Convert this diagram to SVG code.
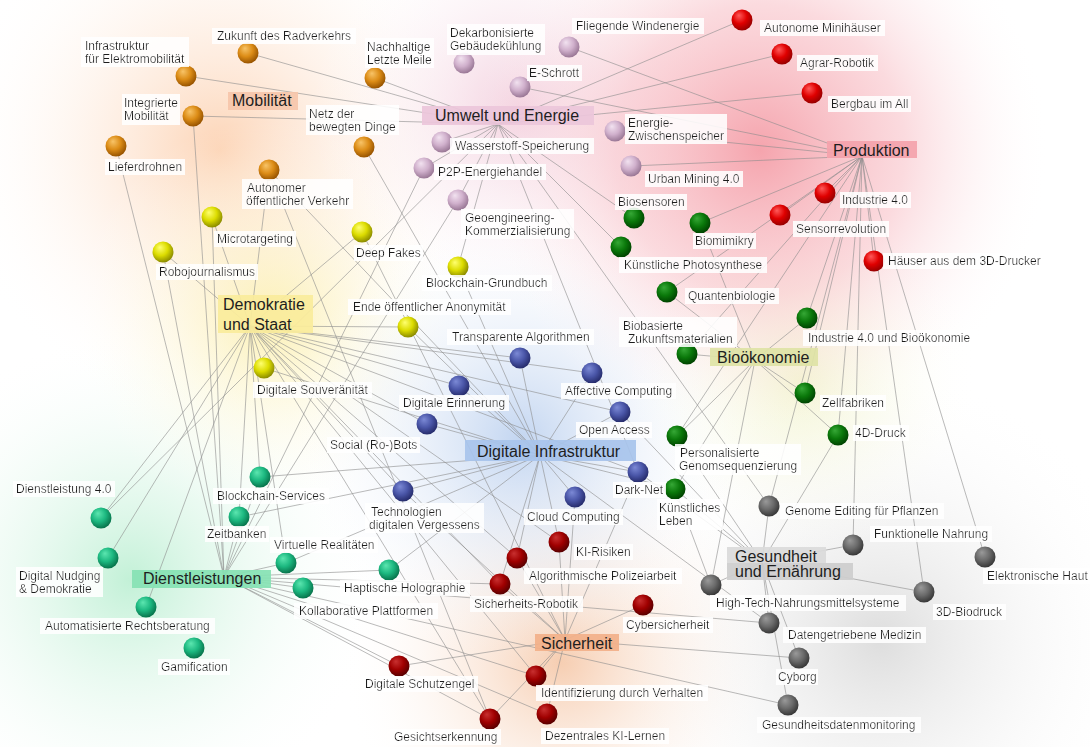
<svg xmlns="http://www.w3.org/2000/svg" width="1090" height="747" viewBox="0 0 1090 747">
<defs>
<style>
text{font-family:"Liberation Sans",Arial,sans-serif;fill:#1e1e1e}
.l{font-size:12px}
.lb{filter:url(#lbg)}
.h{font-size:16px}
.e line{stroke:#8c8c8c;stroke-width:0.75;opacity:0.8}
.or{fill:url(#gOr)}.li{fill:url(#gLi)}.re{fill:url(#gRe)}.gr{fill:url(#gGr)}.ye{fill:url(#gYe)}
.bl{fill:url(#gBl)}.te{fill:url(#gTe)}.dr{fill:url(#gDr)}.gy{fill:url(#gGy)}
</style>
<filter id="lbg" x="-0.03" y="-0.04" width="1.06" height="1.08"><feFlood flood-color="#ffffff" flood-opacity="0.88"/><feComposite in="SourceGraphic" operator="over"/></filter>
<radialGradient id="gOr" cx="0.42" cy="0.38" r="0.62" fx="0.35" fy="0.28"><stop offset="0" stop-color="#f8c468"/><stop offset="0.55" stop-color="#dc8c16"/><stop offset="1" stop-color="#985400"/></radialGradient>
<radialGradient id="gLi" cx="0.42" cy="0.38" r="0.62" fx="0.35" fy="0.28"><stop offset="0" stop-color="#f2e2f0"/><stop offset="0.55" stop-color="#d0b0cc"/><stop offset="1" stop-color="#9a7896"/></radialGradient>
<radialGradient id="gRe" cx="0.42" cy="0.38" r="0.62" fx="0.35" fy="0.28"><stop offset="0" stop-color="#ff5a5a"/><stop offset="0.55" stop-color="#e00000"/><stop offset="1" stop-color="#980000"/></radialGradient>
<radialGradient id="gGr" cx="0.42" cy="0.38" r="0.62" fx="0.35" fy="0.28"><stop offset="0" stop-color="#36a836"/><stop offset="0.55" stop-color="#0a780a"/><stop offset="1" stop-color="#004400"/></radialGradient>
<radialGradient id="gYe" cx="0.42" cy="0.38" r="0.62" fx="0.35" fy="0.28"><stop offset="0" stop-color="#ffff70"/><stop offset="0.55" stop-color="#dcdc00"/><stop offset="1" stop-color="#8c8c00"/></radialGradient>
<radialGradient id="gBl" cx="0.42" cy="0.38" r="0.62" fx="0.35" fy="0.28"><stop offset="0" stop-color="#7c8ad6"/><stop offset="0.55" stop-color="#4a56a8"/><stop offset="1" stop-color="#262c6c"/></radialGradient>
<radialGradient id="gTe" cx="0.42" cy="0.38" r="0.62" fx="0.35" fy="0.28"><stop offset="0" stop-color="#5ce6b0"/><stop offset="0.55" stop-color="#1cb880"/><stop offset="1" stop-color="#08744c"/></radialGradient>
<radialGradient id="gDr" cx="0.42" cy="0.38" r="0.62" fx="0.35" fy="0.28"><stop offset="0" stop-color="#c83030"/><stop offset="0.55" stop-color="#a00000"/><stop offset="1" stop-color="#5a0000"/></radialGradient>
<radialGradient id="gGy" cx="0.42" cy="0.38" r="0.62" fx="0.35" fy="0.28"><stop offset="0" stop-color="#9a9a9a"/><stop offset="0.55" stop-color="#6a6a6a"/><stop offset="1" stop-color="#383838"/></radialGradient>
<radialGradient id="bgRed"><stop offset="0" stop-color="#f49aa4" stop-opacity="0.9"/><stop offset="0.5" stop-color="#f7b6be" stop-opacity="0.5"/><stop offset="1" stop-color="#ffffff" stop-opacity="0"/></radialGradient>
<radialGradient id="bgPink"><stop offset="0" stop-color="#f0c4d6" stop-opacity="0.8"/><stop offset="1" stop-color="#ffffff" stop-opacity="0"/></radialGradient>
<radialGradient id="bgOr"><stop offset="0" stop-color="#fccca8" stop-opacity="0.85"/><stop offset="1" stop-color="#ffffff" stop-opacity="0"/></radialGradient>
<radialGradient id="bgYe"><stop offset="0" stop-color="#fbeea4" stop-opacity="0.8"/><stop offset="1" stop-color="#ffffff" stop-opacity="0"/></radialGradient>
<radialGradient id="bgBl"><stop offset="0" stop-color="#b8ceee" stop-opacity="0.85"/><stop offset="1" stop-color="#ffffff" stop-opacity="0"/></radialGradient>
<radialGradient id="bgGr"><stop offset="0" stop-color="#b8eed0" stop-opacity="0.85"/><stop offset="1" stop-color="#ffffff" stop-opacity="0"/></radialGradient>
<radialGradient id="bgSi"><stop offset="0" stop-color="#f4c09c" stop-opacity="0.8"/><stop offset="1" stop-color="#ffffff" stop-opacity="0"/></radialGradient>
<radialGradient id="bgBio"><stop offset="0" stop-color="#eef0bc" stop-opacity="0.7"/><stop offset="1" stop-color="#ffffff" stop-opacity="0"/></radialGradient>
<radialGradient id="bgGy"><stop offset="0" stop-color="#cfcfcf" stop-opacity="0.7"/><stop offset="1" stop-color="#ffffff" stop-opacity="0"/></radialGradient>
</defs>

<rect x="0" y="0" width="1090" height="747" fill="#ffffff"/>
<g id="background">
<circle cx="880" cy="640" r="270" fill="url(#bgGy)"/>
<circle cx="220" cy="150" r="270" fill="url(#bgOr)"/>
<circle cx="130" cy="580" r="250" fill="url(#bgGr)"/>
<circle cx="270" cy="320" r="200" fill="url(#bgYe)"/>
<circle cx="560" cy="660" r="220" fill="url(#bgSi)"/>
<circle cx="520" cy="440" r="230" fill="url(#bgBl)"/>
<circle cx="800" cy="380" r="180" fill="url(#bgBio)"/>
<circle cx="520" cy="110" r="210" fill="url(#bgPink)"/>
<circle cx="760" cy="150" r="290" fill="url(#bgRed)"/>
</g>

<g id="connectors" class="e">
<!-- Umwelt und Energie -->
<line x1="498" y1="124" x2="248" y2="53"/><line x1="498" y1="124" x2="186" y2="76"/><line x1="498" y1="124" x2="193" y2="116"/>
<line x1="498" y1="124" x2="375" y2="78"/><line x1="498" y1="124" x2="442" y2="142"/><line x1="498" y1="124" x2="424" y2="168"/>
<line x1="498" y1="124" x2="458" y2="200"/><line x1="498" y1="124" x2="634" y2="218"/><line x1="498" y1="124" x2="621" y2="247"/>
<line x1="498" y1="124" x2="742" y2="20"/><line x1="498" y1="124" x2="782" y2="54"/><line x1="498" y1="124" x2="812" y2="93"/>
<line x1="498" y1="124" x2="101" y2="518"/><line x1="498" y1="124" x2="769" y2="506"/><line x1="498" y1="124" x2="458" y2="267"/>
<line x1="498" y1="124" x2="638" y2="472"/>
<!-- Produktion -->
<line x1="862" y1="156" x2="520" y2="87"/><line x1="862" y1="156" x2="569" y2="47"/><line x1="862" y1="156" x2="615" y2="131"/>
<line x1="862" y1="156" x2="631" y2="166"/><line x1="862" y1="156" x2="700" y2="223"/><line x1="862" y1="156" x2="667" y2="292"/>
<line x1="862" y1="156" x2="687" y2="354"/><line x1="862" y1="156" x2="807" y2="318"/><line x1="862" y1="156" x2="805" y2="393"/>
<line x1="862" y1="156" x2="838" y2="435"/><line x1="862" y1="156" x2="825" y2="193"/><line x1="862" y1="156" x2="780" y2="215"/>
<line x1="862" y1="156" x2="874" y2="261"/><line x1="862" y1="156" x2="769" y2="506"/><line x1="862" y1="156" x2="853" y2="545"/>
<line x1="862" y1="156" x2="985" y2="557"/><line x1="862" y1="156" x2="924" y2="592"/><line x1="862" y1="156" x2="677" y2="436"/>
<!-- Demokratie und Staat -->
<line x1="250" y1="326" x2="212" y2="217"/><line x1="250" y1="326" x2="163" y2="252"/><line x1="250" y1="326" x2="362" y2="232"/>
<line x1="250" y1="326" x2="408" y2="327"/><line x1="250" y1="326" x2="264" y2="368"/><line x1="250" y1="326" x2="520" y2="358"/>
<line x1="250" y1="326" x2="592" y2="373"/><line x1="250" y1="326" x2="459" y2="386"/><line x1="250" y1="326" x2="620" y2="412"/>
<line x1="250" y1="326" x2="427" y2="424"/><line x1="250" y1="326" x2="638" y2="472"/><line x1="250" y1="326" x2="403" y2="491"/>
<line x1="250" y1="326" x2="559" y2="542"/><line x1="250" y1="326" x2="517" y2="558"/><line x1="250" y1="326" x2="500" y2="584"/>
<line x1="250" y1="326" x2="536" y2="676"/><line x1="250" y1="326" x2="490" y2="719"/><line x1="250" y1="326" x2="101" y2="518"/>
<line x1="250" y1="326" x2="260" y2="477"/><line x1="250" y1="326" x2="239" y2="517"/><line x1="250" y1="326" x2="108" y2="558"/>
<line x1="250" y1="326" x2="146" y2="607"/><line x1="250" y1="326" x2="269" y2="170"/><line x1="250" y1="326" x2="286" y2="563"/>
<!-- Biooekonomie -->
<line x1="755" y1="360" x2="667" y2="292"/><line x1="755" y1="360" x2="687" y2="354"/><line x1="755" y1="360" x2="807" y2="318"/>
<line x1="755" y1="360" x2="805" y2="393"/><line x1="755" y1="360" x2="838" y2="435"/><line x1="755" y1="360" x2="677" y2="436"/>
<line x1="755" y1="360" x2="675" y2="489"/><line x1="755" y1="360" x2="700" y2="223"/><line x1="755" y1="360" x2="711" y2="585"/>
<!-- Digitale Infrastruktur -->
<line x1="540" y1="455" x2="364" y2="147"/><line x1="540" y1="455" x2="269" y2="170"/><line x1="540" y1="455" x2="458" y2="267"/>
<line x1="540" y1="455" x2="408" y2="327"/><line x1="540" y1="455" x2="264" y2="368"/><line x1="540" y1="455" x2="260" y2="477"/>
<line x1="540" y1="455" x2="239" y2="517"/><line x1="540" y1="455" x2="520" y2="358"/><line x1="540" y1="455" x2="592" y2="373"/>
<line x1="540" y1="455" x2="459" y2="386"/><line x1="540" y1="455" x2="620" y2="412"/><line x1="540" y1="455" x2="427" y2="424"/>
<line x1="540" y1="455" x2="638" y2="472"/><line x1="540" y1="455" x2="403" y2="491"/><line x1="540" y1="455" x2="575" y2="497"/>
<line x1="540" y1="455" x2="559" y2="542"/><line x1="540" y1="455" x2="517" y2="558"/><line x1="540" y1="455" x2="500" y2="584"/>
<line x1="540" y1="455" x2="286" y2="563"/><line x1="540" y1="455" x2="389" y2="570"/><line x1="540" y1="455" x2="675" y2="489"/>
<line x1="540" y1="455" x2="769" y2="623"/>
<!-- Dienstleistungen -->
<line x1="224" y1="577" x2="116" y2="146"/><line x1="224" y1="577" x2="193" y2="116"/><line x1="224" y1="577" x2="212" y2="217"/>
<line x1="224" y1="577" x2="163" y2="252"/><line x1="224" y1="577" x2="260" y2="477"/><line x1="224" y1="577" x2="239" y2="517"/>
<line x1="224" y1="577" x2="286" y2="563"/><line x1="224" y1="577" x2="389" y2="570"/><line x1="224" y1="577" x2="303" y2="588"/>
<line x1="224" y1="577" x2="399" y2="666"/><line x1="224" y1="577" x2="536" y2="676"/><line x1="224" y1="577" x2="490" y2="719"/>
<line x1="224" y1="577" x2="547" y2="714"/><line x1="224" y1="577" x2="769" y2="623"/><line x1="224" y1="577" x2="788" y2="705"/>
<line x1="224" y1="577" x2="500" y2="584"/><line x1="224" y1="577" x2="424" y2="168"/><line x1="224" y1="577" x2="458" y2="200"/>
<!-- Sicherheit -->
<line x1="565" y1="640" x2="559" y2="542"/><line x1="565" y1="640" x2="517" y2="558"/><line x1="565" y1="640" x2="500" y2="584"/>
<line x1="565" y1="640" x2="643" y2="605"/><line x1="565" y1="640" x2="399" y2="666"/><line x1="565" y1="640" x2="536" y2="676"/>
<line x1="565" y1="640" x2="490" y2="719"/><line x1="565" y1="640" x2="547" y2="714"/><line x1="565" y1="640" x2="638" y2="472"/>
<line x1="565" y1="640" x2="575" y2="497"/><line x1="565" y1="640" x2="403" y2="491"/><line x1="565" y1="640" x2="799" y2="658"/>
<line x1="565" y1="640" x2="362" y2="232"/>
<!-- Gesundheit und Ernaehrung -->
<line x1="762" y1="562" x2="769" y2="506"/><line x1="762" y1="562" x2="853" y2="545"/><line x1="762" y1="562" x2="711" y2="585"/>
<line x1="762" y1="562" x2="924" y2="592"/><line x1="762" y1="562" x2="769" y2="623"/><line x1="762" y1="562" x2="799" y2="658"/>
<line x1="762" y1="562" x2="788" y2="705"/><line x1="762" y1="562" x2="677" y2="436"/><line x1="762" y1="562" x2="675" y2="489"/>
<line x1="762" y1="562" x2="838" y2="435"/><line x1="762" y1="562" x2="620" y2="412"/><line x1="762" y1="562" x2="638" y2="472"/>
<!-- other -->
<line x1="269" y1="170" x2="490" y2="719"/><line x1="675" y1="489" x2="711" y2="585"/>
</g>

<g id="hub-mobilitaet"><rect x="228" y="92" width="70" height="18" fill="#f6c6aa" opacity="0.92"/><text class="h" x="232" y="106">Mobilität</text></g>
<g id="hub-umwelt"><rect x="422" y="106" width="172" height="19" fill="#ecc6da" opacity="0.93"/><text class="h" x="435" y="121">Umwelt und Energie</text></g>
<g id="hub-produktion"><rect x="827" y="141" width="90" height="17" fill="#f4a2ac" opacity="0.93"/><text class="h" x="833" y="156">Produktion</text></g>
<g id="hub-demokratie"><rect x="218" y="295" width="95" height="38" fill="#faec9c" opacity="0.93"/><text class="h" x="223" y="310">Demokratie<tspan x="223" y="330">und Staat</tspan></text></g>
<g id="hub-biooekonomie"><rect x="710" y="348" width="108" height="18" fill="#dfe3a6" opacity="0.93"/><text class="h" x="717" y="363">Bioökonomie</text></g>
<g id="hub-digital"><rect x="465" y="440" width="171" height="21" fill="#a8c4ec" opacity="0.93"/><text class="h" x="477" y="457">Digitale Infrastruktur</text></g>
<g id="hub-dienstleistungen"><rect x="132" y="570" width="139" height="18" fill="#86e2b4" opacity="0.93"/><text class="h" x="143" y="584">Dienstleistungen</text></g>
<g id="hub-sicherheit"><rect x="535" y="634" width="84" height="17" fill="#f2b08a" opacity="0.93"/><text class="h" x="541" y="649">Sicherheit</text></g>
<g id="hub-gesundheit"><rect x="727" y="547" width="99" height="16" fill="#dadada" opacity="0.93"/><rect x="727" y="563" width="126" height="17" fill="#cdcdcd" opacity="0.93"/><text class="h" x="735" y="562">Gesundheit<tspan x="735" y="577">und Ernährung</tspan></text></g>

<g id="node-zukunft-radverkehr"><circle class="or" cx="248" cy="53" r="10.5"/><text class="l lb" x="217" y="40">Zukunft des Radverkehrs</text></g>
<g id="node-infrastruktur-elektromobilitaet"><circle class="or" cx="186" cy="76" r="10.5"/><text class="l lb" x="85" y="50">Infrastruktur<tspan x="85" y="62.5">für Elektromobilität</tspan></text></g>
<g id="node-integrierte-mobilitaet"><circle class="or" cx="193" cy="116" r="10.5"/><text class="l lb" x="124" y="107">Integrierte<tspan x="124" y="120">Mobilität</tspan></text></g>
<g id="node-lieferdrohnen"><circle class="or" cx="116" cy="146" r="10.5"/><text class="l lb" x="108" y="171">Lieferdrohnen</text></g>
<g id="node-autonomer-verkehr"><circle class="or" cx="269" cy="170" r="10.5"/><text class="l lb" x="247" y="192">Autonomer<tspan x="246" y="204.5">öffentlicher Verkehr</tspan></text></g>
<g id="node-letzte-meile"><circle class="or" cx="375" cy="78" r="10.5"/><text class="l lb" x="367" y="51">Nachhaltige<tspan x="367" y="63.5">Letzte Meile</tspan></text></g>
<g id="node-netz-dinge"><circle class="or" cx="364" cy="147" r="10.5"/><text class="l lb" x="309" y="118">Netz der<tspan x="309" y="130.5">bewegten Dinge</tspan></text></g>

<g id="node-gebaeudekuehlung"><circle class="li" cx="464" cy="63" r="10.5"/><text class="l lb" x="450" y="37">Dekarbonisierte<tspan x="450" y="50">Gebäudekühlung</tspan></text></g>
<g id="node-e-schrott"><circle class="li" cx="520" cy="87" r="10.5"/><text class="l lb" x="529" y="77">E-Schrott</text></g>
<g id="node-windenergie"><circle class="li" cx="569" cy="47" r="10.5"/><text class="l lb" x="576" y="30">Fliegende Windenergie</text></g>
<g id="node-wasserstoff"><circle class="li" cx="442" cy="142" r="10.5"/><text class="l lb" x="455" y="150">Wasserstoff-Speicherung</text></g>
<g id="node-zwischenspeicher"><circle class="li" cx="615" cy="131" r="10.5"/><text class="l lb" x="628" y="127">Energie-<tspan x="628" y="139.5">Zwischenspeicher</tspan></text></g>
<g id="node-p2p"><circle class="li" cx="424" cy="168" r="10.5"/><text class="l lb" x="438" y="176">P2P-Energiehandel</text></g>
<g id="node-urban-mining"><circle class="li" cx="631" cy="166" r="10.5"/><text class="l lb" x="648" y="183">Urban Mining 4.0</text></g>
<g id="node-geoengineering"><circle class="li" cx="458" cy="200" r="10.5"/><text class="l lb" x="465" y="222">Geoengineering-<tspan x="465" y="234.5">Kommerzialisierung</tspan></text></g>

<g id="node-minihaeuser"><circle class="re" cx="742" cy="20" r="10.5"/><text class="l lb" x="764" y="32">Autonome Minihäuser</text></g>
<g id="node-agrar-robotik"><circle class="re" cx="782" cy="54" r="10.5"/><text class="l lb" x="800" y="67">Agrar-Robotik</text></g>
<g id="node-bergbau"><circle class="re" cx="812" cy="93" r="10.5"/><text class="l lb" x="831" y="108">Bergbau im All</text></g>
<g id="node-industrie40"><circle class="re" cx="825" cy="193" r="10.5"/><text class="l lb" x="842" y="204">Industrie 4.0</text></g>
<g id="node-sensorrevolution"><circle class="re" cx="780" cy="215" r="10.5"/><text class="l lb" x="796" y="233">Sensorrevolution</text></g>
<g id="node-haeuser-3d"><circle class="re" cx="874" cy="261" r="10.5"/><text class="l lb" x="888" y="265">Häuser aus dem 3D-Drucker</text></g>

<g id="node-biosensoren"><circle class="gr" cx="634" cy="218" r="10.5"/><text class="l lb" x="618" y="206">Biosensoren</text></g>
<g id="node-biomimikry"><circle class="gr" cx="700" cy="223" r="10.5"/><text class="l lb" x="695" y="245">Biomimikry</text></g>
<g id="node-photosynthese"><circle class="gr" cx="621" cy="247" r="10.5"/><text class="l lb" x="624" y="269">Künstliche Photosynthese</text></g>
<g id="node-quantenbiologie"><circle class="gr" cx="667" cy="292" r="10.5"/><text class="l lb" x="688" y="300">Quantenbiologie</text></g>
<g id="node-biobasierte"><circle class="gr" cx="687" cy="354" r="10.5"/><text class="l lb" x="623" y="330">Biobasierte<tspan x="628" y="342.5">Zukunftsmaterialien</tspan></text></g>
<g id="node-industrie-bio"><circle class="gr" cx="807" cy="318" r="10.5"/><text class="l lb" x="808" y="342">Industrie 4.0 und Bioökonomie</text></g>
<g id="node-zellfabriken"><circle class="gr" cx="805" cy="393" r="10.5"/><text class="l lb" x="822" y="407">Zellfabriken</text></g>
<g id="node-4d-druck"><circle class="gr" cx="838" cy="435" r="10.5"/><text class="l lb" x="855" y="437">4D-Druck</text></g>
<g id="node-genomsequenzierung"><circle class="gr" cx="677" cy="436" r="10.5"/><text class="l lb" x="680" y="457">Personalisierte<tspan x="679" y="470">Genomsequenzierung</tspan></text></g>
<g id="node-kuenstliches-leben"><circle class="gr" cx="675" cy="489" r="10.5"/><text class="l lb" x="659" y="512">Künstliches<tspan x="659" y="525">Leben</tspan></text></g>

<g id="node-microtargeting"><circle class="ye" cx="212" cy="217" r="10.5"/><text class="l lb" x="217" y="243">Microtargeting</text></g>
<g id="node-robojournalismus"><circle class="ye" cx="163" cy="252" r="10.5"/><text class="l lb" x="159" y="276">Robojournalismus</text></g>
<g id="node-deep-fakes"><circle class="ye" cx="362" cy="232" r="10.5"/><text class="l lb" x="356" y="257">Deep Fakes</text></g>
<g id="node-blockchain-grundbuch"><circle class="ye" cx="458" cy="267" r="10.5"/><text class="l lb" x="426" y="287">Blockchain-Grundbuch</text></g>
<g id="node-anonymitaet"><circle class="ye" cx="408" cy="327" r="10.5"/><text class="l lb" x="353" y="311">Ende öffentlicher Anonymität</text></g>
<g id="node-souveraenitaet"><circle class="ye" cx="264" cy="368" r="10.5"/><text class="l lb" x="257" y="394">Digitale Souveränität</text></g>

<g id="node-transparente-algorithmen"><circle class="bl" cx="520" cy="358" r="10.5"/><text class="l lb" x="452" y="341">Transparente Algorithmen</text></g>
<g id="node-affective-computing"><circle class="bl" cx="592" cy="373" r="10.5"/><text class="l lb" x="565" y="395">Affective Computing</text></g>
<g id="node-digitale-erinnerung"><circle class="bl" cx="459" cy="386" r="10.5"/><text class="l lb" x="403" y="407">Digitale Erinnerung</text></g>
<g id="node-open-access"><circle class="bl" cx="620" cy="412" r="10.5"/><text class="l lb" x="579" y="434">Open Access</text></g>
<g id="node-social-bots"><circle class="bl" cx="427" cy="424" r="10.5"/><text class="l lb" x="330" y="449">Social (Ro-)Bots</text></g>
<g id="node-dark-net"><circle class="bl" cx="638" cy="472" r="10.5"/><text class="l lb" x="615" y="494">Dark-Net</text></g>
<g id="node-vergessen"><circle class="bl" cx="403" cy="491" r="10.5"/><text class="l lb" x="371" y="516">Technologien<tspan x="369" y="528.5">digitalen Vergessens</tspan></text></g>
<g id="node-cloud-computing"><circle class="bl" cx="575" cy="497" r="10.5"/><text class="l lb" x="527" y="521">Cloud Computing</text></g>

<g id="node-dienstleistung40"><circle class="te" cx="101" cy="518" r="10.5"/><text class="l lb" x="16" y="493">Dienstleistung 4.0</text></g>
<g id="node-blockchain-services"><circle class="te" cx="260" cy="477" r="10.5"/><text class="l lb" x="217" y="500">Blockchain-Services</text></g>
<g id="node-zeitbanken"><circle class="te" cx="239" cy="517" r="10.5"/><text class="l lb" x="207" y="538">Zeitbanken</text></g>
<g id="node-digital-nudging"><circle class="te" cx="108" cy="558" r="10.5"/><text class="l lb" x="19" y="580">Digital Nudging<tspan x="19" y="592.5">&amp; Demokratie</tspan></text></g>
<g id="node-virtuelle-realitaeten"><circle class="te" cx="286" cy="563" r="10.5"/><text class="l lb" x="274" y="549">Virtuelle Realitäten</text></g>
<g id="node-haptische-holographie"><circle class="te" cx="389" cy="570" r="10.5"/><text class="l lb" x="344" y="592">Haptische Holographie</text></g>
<g id="node-kollaborative-plattformen"><circle class="te" cx="303" cy="588" r="10.5"/><text class="l lb" x="299" y="615">Kollaborative Plattformen</text></g>
<g id="node-rechtsberatung"><circle class="te" cx="146" cy="607" r="10.5"/><text class="l lb" x="45" y="630">Automatisierte Rechtsberatung</text></g>
<g id="node-gamification"><circle class="te" cx="194" cy="648" r="10.5"/><text class="l lb" x="161" y="671">Gamification</text></g>

<g id="node-ki-risiken"><circle class="dr" cx="559" cy="542" r="10.5"/><text class="l lb" x="576" y="556">KI-Risiken</text></g>
<g id="node-polizeiarbeit"><circle class="dr" cx="517" cy="558" r="10.5"/><text class="l lb" x="529" y="580">Algorithmische Polizeiarbeit</text></g>
<g id="node-sicherheits-robotik"><circle class="dr" cx="500" cy="584" r="10.5"/><text class="l lb" x="474" y="608">Sicherheits-Robotik</text></g>
<g id="node-cybersicherheit"><circle class="dr" cx="643" cy="605" r="10.5"/><text class="l lb" x="626" y="629">Cybersicherheit</text></g>
<g id="node-schutzengel"><circle class="dr" cx="399" cy="666" r="10.5"/><text class="l lb" x="365" y="688">Digitale Schutzengel</text></g>
<g id="node-identifizierung"><circle class="dr" cx="536" cy="676" r="10.5"/><text class="l lb" x="541" y="697">Identifizierung durch Verhalten</text></g>
<g id="node-gesichtserkennung"><circle class="dr" cx="490" cy="719" r="10.5"/><text class="l lb" x="394" y="741">Gesichtserkennung</text></g>
<g id="node-ki-lernen"><circle class="dr" cx="547" cy="714" r="10.5"/><text class="l lb" x="545" y="740">Dezentrales KI-Lernen</text></g>

<g id="node-genome-editing"><circle class="gy" cx="769" cy="506" r="10.5"/><text class="l lb" x="785" y="515">Genome Editing für Pflanzen</text></g>
<g id="node-funktionelle-nahrung"><circle class="gy" cx="853" cy="545" r="10.5"/><text class="l lb" x="874" y="538">Funktionelle Nahrung</text></g>
<g id="node-elektronische-haut"><circle class="gy" cx="985" cy="557" r="10.5"/><text class="l lb" x="987" y="580">Elektronische Haut</text></g>
<g id="node-nahrungsmittelsysteme"><circle class="gy" cx="711" cy="585" r="10.5"/><text class="l lb" x="716" y="607">High-Tech-Nahrungsmittelsysteme</text></g>
<g id="node-3d-biodruck"><circle class="gy" cx="924" cy="592" r="10.5"/><text class="l lb" x="936" y="616">3D-Biodruck</text></g>
<g id="node-datengetriebene-medizin"><circle class="gy" cx="769" cy="623" r="10.5"/><text class="l lb" x="788" y="639">Datengetriebene Medizin</text></g>
<g id="node-cyborg"><circle class="gy" cx="799" cy="658" r="10.5"/><text class="l lb" x="778" y="681">Cyborg</text></g>
<g id="node-gesundheitsdatenmonitoring"><circle class="gy" cx="788" cy="705" r="10.5"/><text class="l lb" x="762" y="729">Gesundheitsdatenmonitoring</text></g>
</svg>
